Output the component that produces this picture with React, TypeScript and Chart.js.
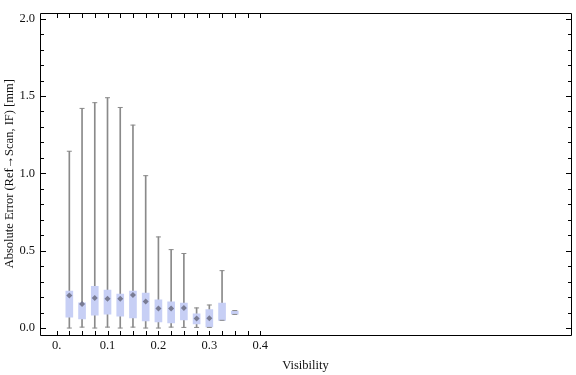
import React, { useEffect, useRef } from "react";
import { Chart, registerables } from "chart.js";

Chart.register(...registerables);

// ---- data ----
const visibility = [0.025, 0.05, 0.075, 0.1, 0.125, 0.15, 0.175, 0.2, 0.225, 0.25, 0.275, 0.3, 0.325, 0.35];
const minValues = [0.0, 0.006, 0.0, 0.006, 0.0, 0.006, 0.0, 0.0, 0.006, 0.004, 0.004, 0.004, 0.05, 0.088];
const q1Values = [0.071, 0.059, 0.084, 0.09, 0.077, 0.065, 0.046, 0.04, 0.033, 0.052, 0.027, 0.008, 0.05, 0.09];
const medianValues: (number | null)[] = [0.21, 0.155, 0.195, 0.189, 0.189, 0.214, 0.172, 0.126, 0.126, 0.13, 0.061, 0.063, null, null];
const q3Values = [0.239, 0.163, 0.27, 0.245, 0.22, 0.239, 0.226, 0.182, 0.17, 0.162, 0.092, 0.12, 0.162, 0.11];
const maxValues = [1.143, 1.42, 1.457, 1.489, 1.426, 1.312, 0.985, 0.589, 0.507, 0.482, 0.13, 0.149, 0.371, 0.113];

const xTickValues = [0, 0.025, 0.05, 0.075, 0.1, 0.125, 0.15, 0.175, 0.2, 0.225, 0.25, 0.275, 0.3, 0.325, 0.35, 0.375, 0.4];
const xMajorTicks = [0, 0.1, 0.2, 0.3, 0.4];
const xMajorLabels = ["0.", "0.1", "0.2", "0.3", "0.4"];
const yTickValues = [0, 0.1, 0.2, 0.3, 0.4, 0.5, 0.6, 0.7, 0.8, 0.9, 1.0, 1.1, 1.2, 1.3, 1.4, 1.5, 1.6, 1.7, 1.8, 1.9, 2.0];
const yMajorTicks = [0, 0.5, 1.0, 1.5, 2.0];
const yMajorLabels = ["0.0", "0.5", "1.0", "1.5", "2.0"];

const xTitle = "Visibility";
const yTitle = "Absolute Error (Ref\u2192Scan, IF) [mm]";

const FONT = "'Liberation Serif', 'Times New Roman', 'DejaVu Serif', serif";
const TEXT = "#111";
const WHISKER = "#8a8a8a";
const BOX = "rgb(199, 207, 245)";
const MEDIAN = "rgba(112, 114, 138, 0.9)";

const near = (a: number, b: number) => Math.abs(a - b) < 1e-6;
const labelFor = (v: number, majors: number[], labels: string[]) => {
  const i = majors.findIndex((m) => near(m, v));
  return i >= 0 ? labels[i] : "";
};

const framePlugin = {
  id: "frameTicks",
  afterDraw(chart: any) {
    const { ctx, chartArea } = chart;
    const { left, right, top, bottom } = chartArea;
    const xs = chart.scales.x;
    const ys = chart.scales.y;
    ctx.save();
    ctx.strokeStyle = "#000";
    ctx.lineWidth = 1;
    ctx.beginPath();
    const L = Math.round(left) + 0.5;
    const R = Math.round(right) + 0.5;
    const T = Math.round(top) + 0.5;
    const B = Math.round(bottom) + 0.5;
    ctx.rect(L, T, R - L, B - T);
    xTickValues.forEach((v) => {
      const p = Math.round(xs.getPixelForValue(v)) + 0.5;
      ctx.moveTo(p, B);
      ctx.lineTo(p, B - 4.5);
      ctx.moveTo(p, T);
      ctx.lineTo(p, T + 4.5);
    });
    yTickValues.forEach((v) => {
      const p = Math.round(ys.getPixelForValue(v)) + 0.5;
      const major = yMajorTicks.some((m) => near(m, v));
      const len = major ? 5.5 : 3.5;
      ctx.moveTo(L, p);
      ctx.lineTo(L + len, p);
      ctx.moveTo(R, p);
      ctx.lineTo(R - len, p);
    });
    ctx.stroke();
    ctx.restore();
  },
};

export default function App() {
  const ref = useRef<HTMLCanvasElement>(null);

  useEffect(() => {
    document.body.style.margin = "0";
    const canvas = ref.current;
    if (!canvas) return;

    const whiskers = visibility.map((x, i) => ({ x, y: [minValues[i], maxValues[i]] }));
    const boxes = visibility.map((x, i) => ({ x, y: [q1Values[i], q3Values[i]] }));
    const caps: { x: number; y: number }[] = [];
    visibility.forEach((x, i) => {
      caps.push({ x, y: minValues[i] });
      caps.push({ x, y: maxValues[i] });
    });
    const medians = visibility
      .map((x, i) => ({ x, y: medianValues[i] }))
      .filter((p) => p.y !== null);

    const chart = new Chart(canvas, {
      type: "bar",
      data: {
        datasets: [
          {
            type: "bar",
            data: whiskers as any,
            backgroundColor: WHISKER,
            borderWidth: 0,
            barThickness: 1,
            grouped: false,
            order: 4,
          } as any,
          {
            type: "bar",
            data: boxes as any,
            backgroundColor: BOX,
            borderWidth: 0,
            barThickness: 7,
            grouped: false,
            order: 3,
          } as any,
          {
            type: "scatter",
            data: caps,
            pointStyle: "line",
            pointRadius: 2.5,
            borderColor: WHISKER,
            borderWidth: 1,
            order: 2,
          } as any,
          {
            type: "scatter",
            data: medians as any,
            pointStyle: "rectRot",
            pointRadius: 3,
            backgroundColor: MEDIAN,
            borderWidth: 0,
            order: 1,
          } as any,
        ],
      },
      options: {
        animation: false,
        responsive: false,
        maintainAspectRatio: false,
        layout: { padding: { top: 5, right: 1, left: 0, bottom: 0 } },
        plugins: {
          legend: { display: false },
          tooltip: { enabled: false },
        },
        scales: {
          x: {
            type: "linear",
            min: -0.0326,
            max: 1.0104,
            offset: false,
            grid: { display: false, drawTicks: false },
            border: { display: false },
            afterBuildTicks: (scale: any) => {
              scale.ticks = xMajorTicks.map((v) => ({ value: v }));
            },
            afterFit: (scale: any) => {
              scale.height = 40;
            },
            ticks: {
              autoSkip: false,
              maxRotation: 0,
              padding: 3,
              color: TEXT,
              font: { family: FONT, size: 12.5 },
              callback: (v: any) => labelFor(Number(v), xMajorTicks, xMajorLabels),
            },
            title: {
              display: true,
              text: xTitle,
              color: TEXT,
              font: { family: FONT, size: 12.5 },
              padding: { top: 2, bottom: 2 },
            },
          },
          y: {
            type: "linear",
            min: -0.045,
            max: 2.04,
            grid: { display: false, drawTicks: false },
            border: { display: false },
            afterBuildTicks: (scale: any) => {
              scale.ticks = yMajorTicks.map((v) => ({ value: v }));
            },
            afterFit: (scale: any) => {
              scale.width = 40;
            },
            ticks: {
              autoSkip: false,
              padding: 5,
              color: TEXT,
              font: { family: FONT, size: 12.5 },
              callback: (v: any) => labelFor(Number(v), yMajorTicks, yMajorLabels),
            },
            title: {
              display: true,
              text: yTitle,
              color: TEXT,
              font: { family: FONT, size: 12.5 },
              padding: { top: 2, bottom: 2 },
            },
          },
        },
      } as any,
      plugins: [framePlugin],
    });

    return () => chart.destroy();
  }, []);

  return (
    <div style={{ position: "absolute", left: 0, top: 0, width: 576, height: 375, background: "#fff" }}>
      <canvas ref={ref} width={576} height={375} />
    </div>
  );
}
